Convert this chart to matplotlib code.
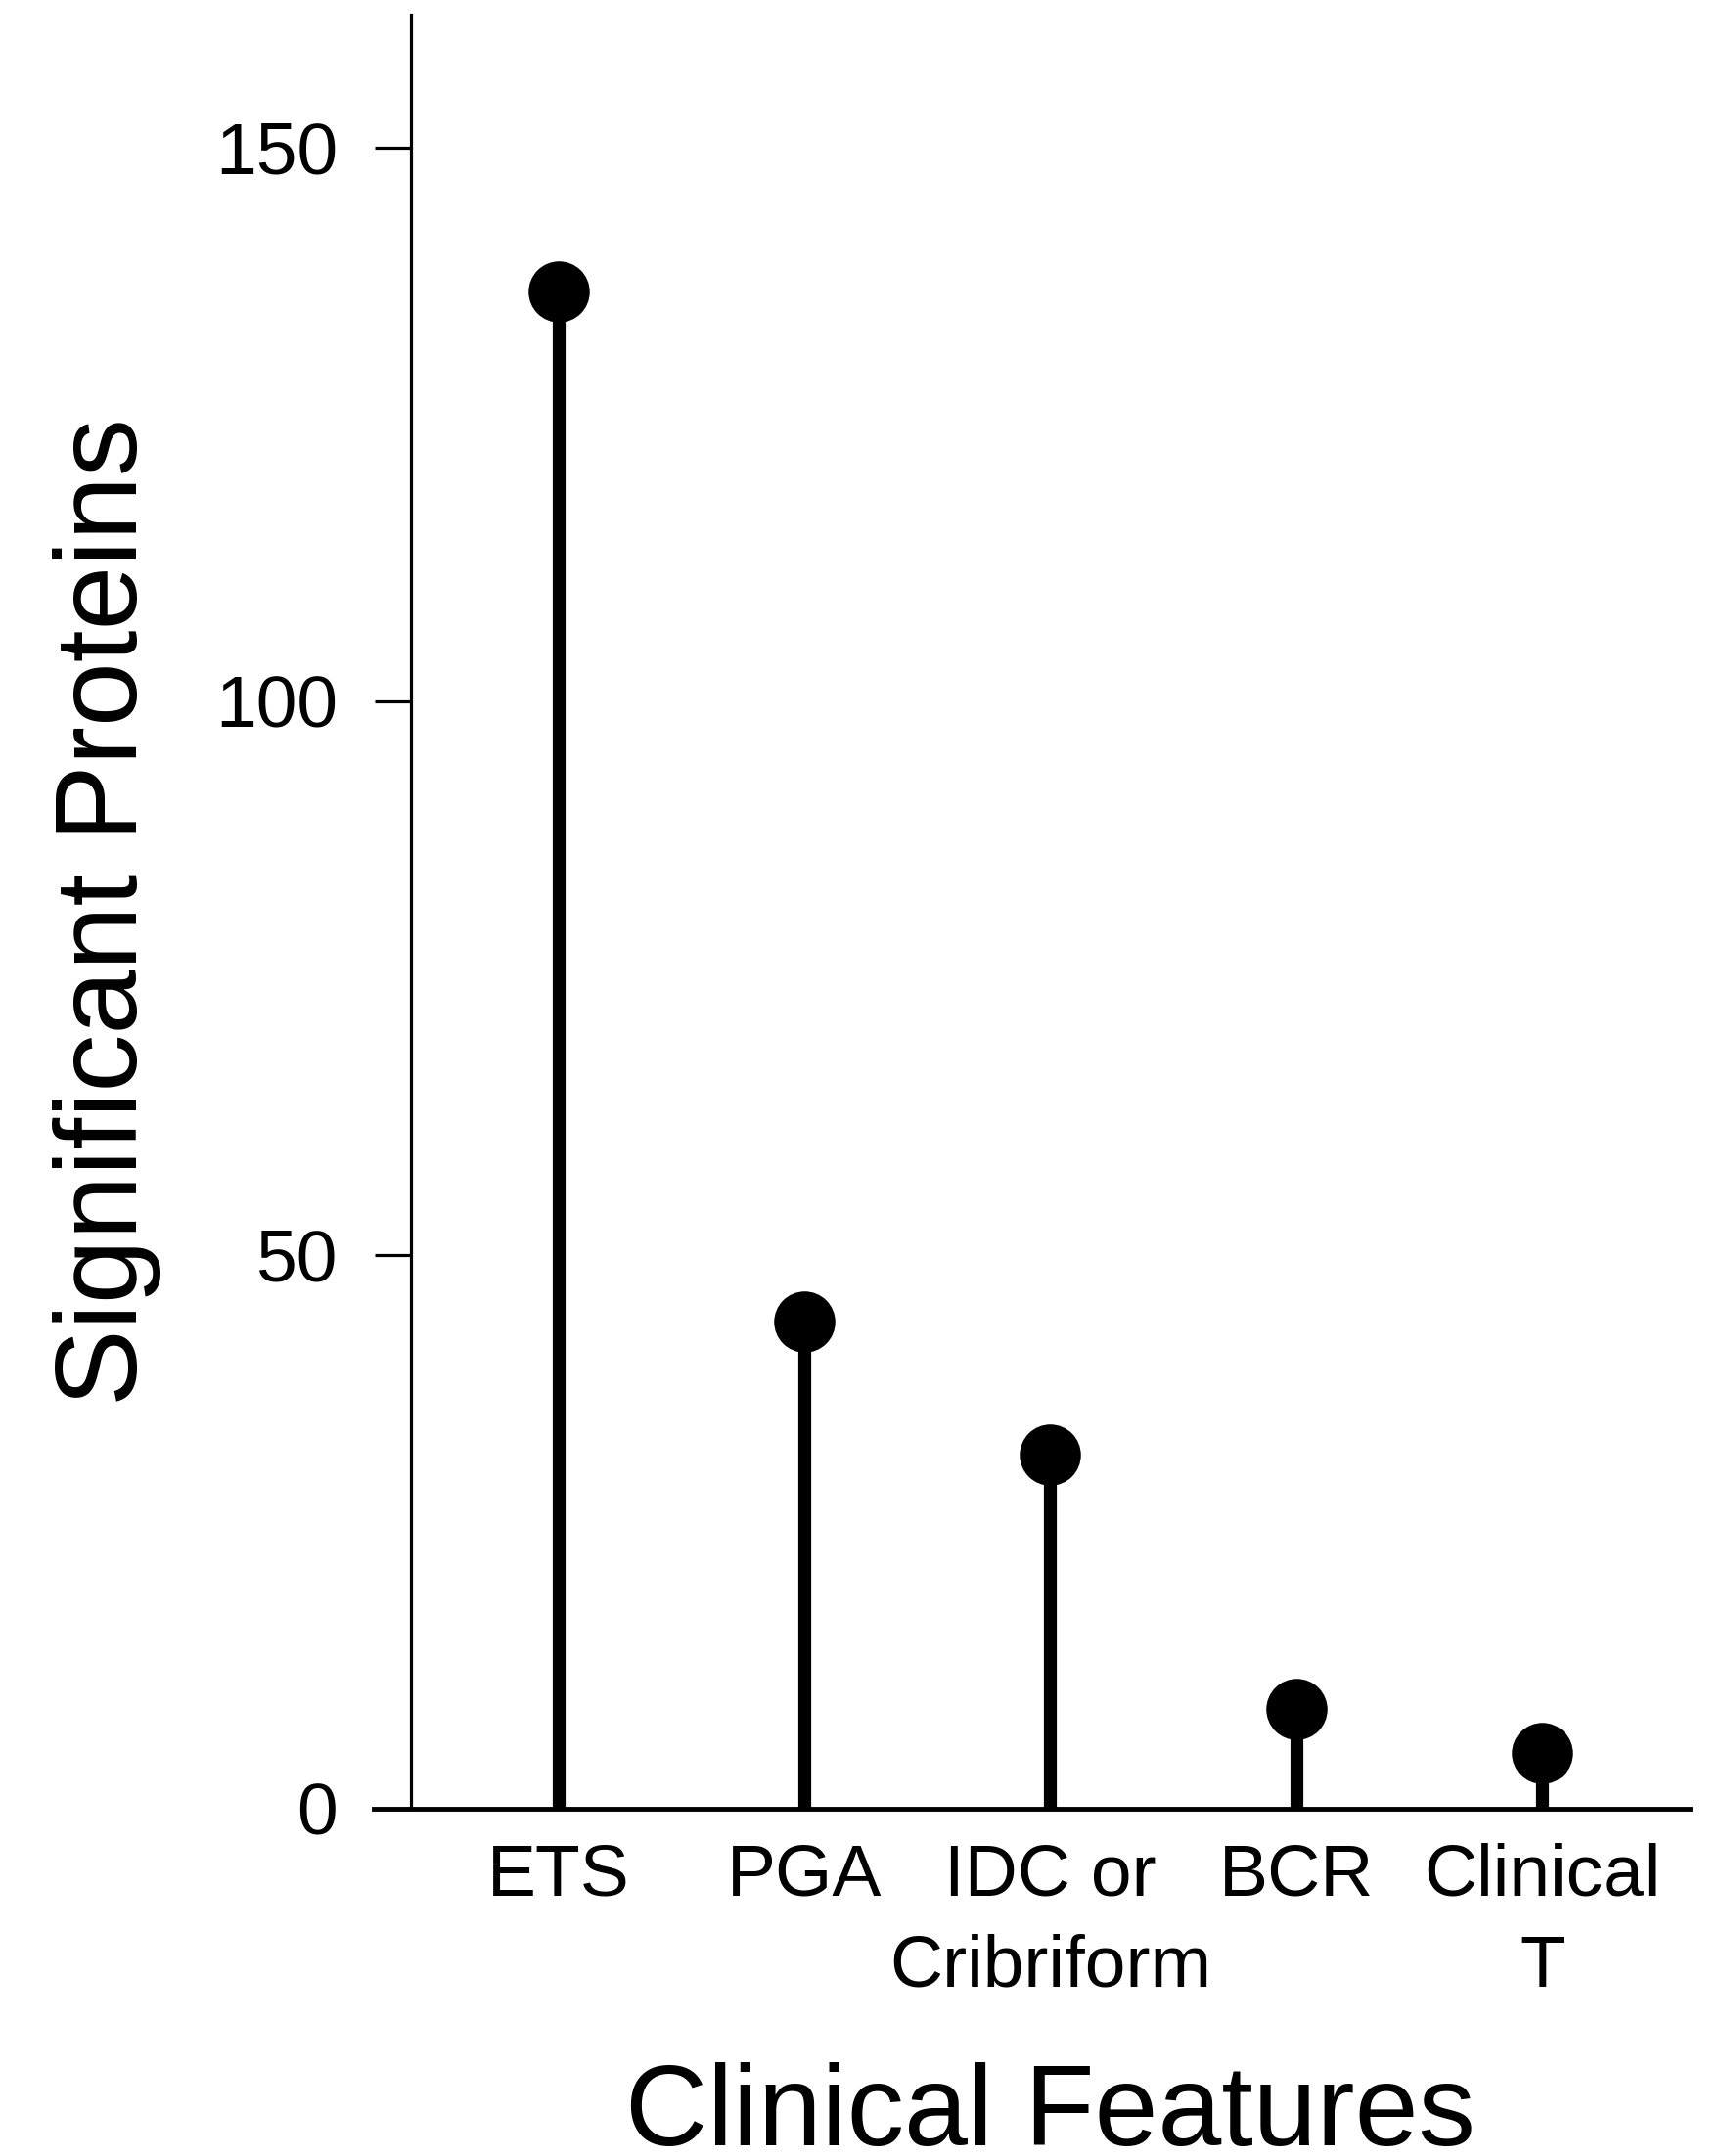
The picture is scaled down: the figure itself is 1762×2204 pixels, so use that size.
import matplotlib
matplotlib.use("Agg")
import matplotlib.pyplot as plt

plt.rcParams['font.family'] = ['Liberation Sans', 'DejaVu Sans']

categories = ["ETS", "PGA", "IDC or\nCribriform", "BCR", "Clinical\nT"]
values = [137, 44, 32, 9, 5]
yticks = [0, 50, 100, 150]

fig = plt.figure(figsize=(17.62, 22.04), dpi=100)
ax = fig.add_axes([0.2384, 0.1611, 0.9801 - 0.2384, 0.9932 - 0.1611])

x = list(range(1, len(categories) + 1))
ax.vlines(x, 0, values, colors='black', linewidth=9.5, capstyle='butt', zorder=2)
ax.plot(x, values, 'o', color='black', markersize=44, zorder=3)

ax.set_xlim(0.4, 5.6)
ax.set_ylim(0, 162)

for s in ['top', 'right', 'bottom']:
    ax.spines[s].set_visible(False)
ax.spines['left'].set_linewidth(2.3)
ax.axhline(0, xmin=-0.029, xmax=1.0, color='black', linewidth=3.5, clip_on=False, zorder=4)

ax.set_yticks(yticks)
ax.set_yticklabels([str(v) for v in yticks])
ax.set_xticks(x)
ax.set_xticklabels(categories, linespacing=1.45)
ax.tick_params(axis='y', length=27, width=2.3, pad=27, labelsize=54)
ax.tick_params(axis='x', length=0, pad=25, labelsize=54)

ax.set_ylabel("Significant Proteins", fontsize=85)
ax.set_xlabel("Clinical Features", fontsize=84)
ax.yaxis.set_label_coords(-0.195, 0.5)
ax.xaxis.set_label_coords(0.5, -0.1415)

fig.savefig("out.png", dpi=100)
